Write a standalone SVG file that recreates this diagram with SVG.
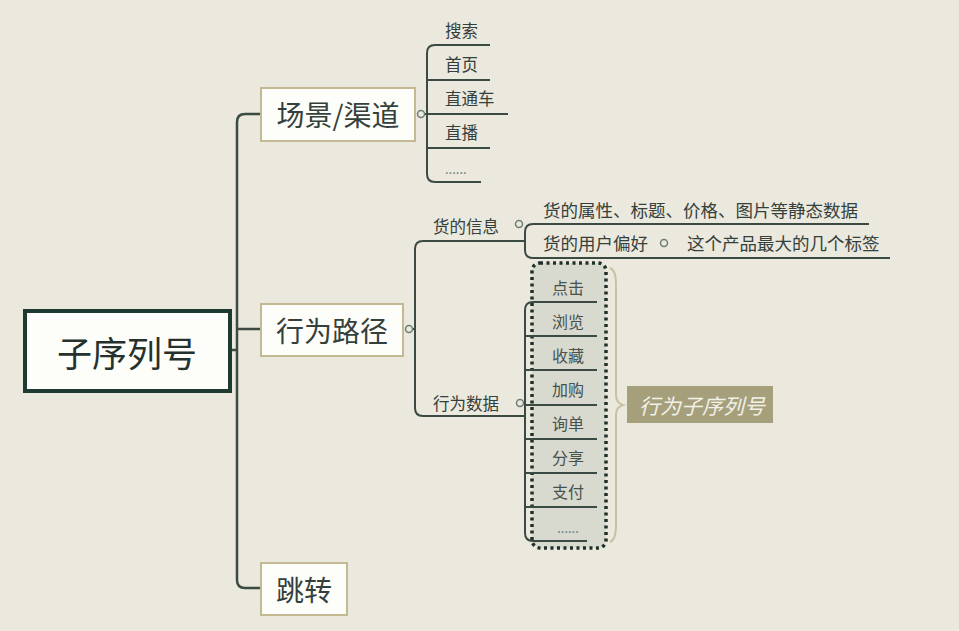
<svg xmlns="http://www.w3.org/2000/svg" width="959" height="631" viewBox="0 0 959 631">
<style>
text{font-family:"Noto Sans CJK SC","Noto Sans",sans-serif;fill:#34403b;dominant-baseline:central}
.big{font-size:28px;text-anchor:middle}
.sm{font-size:16.5px}
.wide{font-size:17.5px}
.item{font-size:16px;text-anchor:middle;fill:#47524d}
.dots{font-size:13px;dominant-baseline:auto;fill:#66726c}
.node{fill:#fdfdfa;stroke:#c3b993;stroke-width:2}
.ln{fill:none;stroke:#3b4a43;stroke-width:2}
.cir{fill:#ebe8dd;stroke:#6e7d76;stroke-width:1.5}
</style>
<rect width="959" height="631" fill="#ebe8dd"/>
<g id="connectors">
<path class="ln" style="stroke-width:2.5" d="M260,114 H245 Q237,114 237,122 V580 Q237,588 245,588 H260 M237,329 H260 M231,350 H237"/>
<path class="ln" d="M490,45 H435 Q427,45 427,53 V174 Q427,182 435,182 H481 M425,114 H508 M427,80 H490 M427,148 H490"/>
<path class="ln" d="M413,329 H415 M525,241 H423 Q415,241 415,249 V408 Q415,416 423,416 H525"/>
<path class="ln" d="M869,224 H533 Q525,224 525,232 V250 Q525,258 533,258 H890"/>
</g>
<g id="node-root">
<rect x="25" y="311" width="205" height="80" fill="#fdfdfa" stroke="#1d3a33" stroke-width="4"/>
<text x="127" y="351" style="font-size:35px;text-anchor:middle;fill:#26312d">子序列号</text>
</g>
<g id="node-scene">
<rect class="node" x="261" y="88" width="154" height="53"/>
<text class="big" x="338" y="114">场景/渠道</text>
<circle class="cir" cx="421" cy="114" r="3.5"/>
</g>
<g id="node-scene-children">
<text class="sm" x="445" y="30">搜索</text>
<text class="sm" x="445" y="64">首页</text>
<text class="sm" x="445" y="98">直通车</text>
<text class="sm" x="445" y="132">直播</text>
<text class="dots" x="445" y="174">......</text>
</g>
<g id="node-path">
<rect class="node" x="261" y="304" width="142" height="52"/>
<text class="big" x="332" y="330">行为路径</text>
<circle class="cir" cx="409" cy="329" r="3.5"/>
</g>
<g id="node-jump">
<rect class="node" x="261" y="563" width="86" height="52"/>
<text class="big" x="304" y="589">跳转</text>
</g>
<g id="node-goods">
<text class="sm" x="433" y="226">货的信息</text>
<circle class="cir" cx="519" cy="224" r="3.5"/>
<text class="wide" x="543" y="209">货的属性、标题、价格、图片等静态数据</text>
<text class="wide" x="543" y="242">货的用户偏好</text>
<circle class="cir" cx="664" cy="243" r="3.5"/>
<text class="wide" x="687" y="242">这个产品最大的几个标签</text>
</g>
<g id="node-behavior">
<text class="sm" x="433" y="403">行为数据</text>
<circle class="cir" cx="520" cy="403" r="3.5"/>
</g>
<g id="node-behavior-list">
<rect x="532" y="263" width="74" height="285" rx="8" fill="#d8d9cf" stroke="#1f302b" stroke-width="3.5" stroke-dasharray="3 3.5"/>
<path class="ln" d="M597,302 H533 Q525,302 525,310 V533 Q525,541 533,541 H587 M525,336 H597 M525,370 H597 M525,405 H597 M525,439 H597 M525,473 H597 M525,507 H597"/>
<text class="item" x="568" y="287">点击</text>
<text class="item" x="568" y="321">浏览</text>
<text class="item" x="568" y="355">收藏</text>
<text class="item" x="568" y="389">加购</text>
<text class="item" x="568" y="423">询单</text>
<text class="item" x="568" y="457">分享</text>
<text class="item" x="568" y="491">支付</text>
<text class="dots" x="568" y="533" style="text-anchor:middle">......</text>
</g>
<g id="node-summary">
<path d="M610,268 Q616,270 616,285 V395 Q616,403 623,405 Q616,407 616,415 V525 Q616,540 610,542" fill="none" stroke="#c9c2a0" stroke-width="2"/>
<rect x="627" y="386" width="146" height="37" fill="#a5a07b"/>
<text x="702" y="405" style="font-size:21px;text-anchor:middle;fill:#f2f1e8;font-style:italic">行为子序列号</text>
</g>
</svg>
